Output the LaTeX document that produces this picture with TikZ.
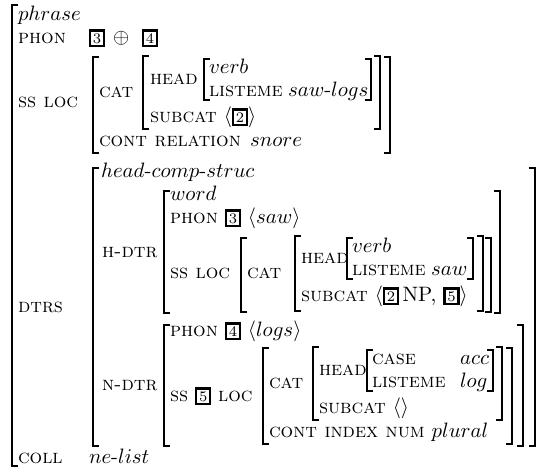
\documentclass[tikz,border=0pt]{standalone}
\newcommand{\tg}[1]{{\setlength{\fboxrule}{1.1pt}\setlength{\fboxsep}{0.8pt}\fbox{\scriptsize #1}}}
\newcommand{\at}[1]{{\fontsize{9.5}{11}\selectfont\scshape #1}}
\newcommand{\LBr}[3]{\draw[brk] ({#1+6},#2) -- (#1,#2) -- (#1,#3) -- ({#1+6},#3);}
\newcommand{\RBr}[3]{\draw[brk] ({#1-6},#2) -- (#1,#2) -- (#1,#3) -- ({#1-6},#3);}
\begin{document}
\begin{tikzpicture}[x=0.48pt,y=-0.48pt,
  tx/.style={anchor=base west, inner sep=0pt, outer sep=0pt},
  brk/.style={line width=0.8pt}]
\useasboundingbox (0,0) rectangle (537,475);
% ---------- top level ----------
\LBr{12}{5}{466}
\node[tx] (phrase) at (18,20) {$phrase$};
\node[tx] (phon) at (18,43) {\at{phon}};
\node[tx] (t3a) at (89,43) {\tg{3}};
\node[tx] (oplus) at (113,43) {$\oplus$};
\node[tx] (t4a) at (142,43) {\tg{4}};
\node[tx] (ssloc) at (18,107) {\at{ss loc}};
% SS LOC value
\LBr{93}{57}{153} \RBr{390}{57}{153}
\node[tx] (cat1) at (99,97) {\at{cat}};
\LBr{143}{56}{129} \RBr{380}{56}{129}
\node[tx] (head1) at (150,84) {\at{head}};
\LBr{204}{59}{100} \RBr{371}{59}{100}
\node[tx] (verb1) at (209,73) {$verb$};
\node[tx] (lst1) at (209,96) {\at{listeme}};
\node[tx] (sawlogs) at (288,96) {$saw\mbox{-}logs$};
\node[tx] (subcat1) at (150,122) {\at{subcat} $\langle$\tg{2}$\rangle$};
\node[tx] (cont1) at (99,146) {\at{cont relation}};
\node[tx] (snore) at (250,146) {$snore$};
% ---------- DTRS ----------
\node[tx] (dtrs) at (18,312) {\at{dtrs}};
\LBr{93}{168}{446} \RBr{535}{168}{446}
\node[tx] (hcs) at (101,177) {$head\mbox{-}comp\mbox{-}struc$};
% H-DTR
\node[tx] (hdtr) at (102,257) {\at{h-dtr}};
\LBr{164}{191}{313} \RBr{500}{191}{313}
\node[tx] (word) at (170,200) {$word$};
\node[tx] (phon2) at (170,223) {\at{phon} \tg{3} $\langle saw\rangle$};
\node[tx] (ssloc2) at (170,278) {\at{ss loc}};
\LBr{241}{238}{312} \RBr{491}{238}{312}
\node[tx] (cat2) at (247,278) {\at{cat}};
\LBr{295}{236}{311} \RBr{483}{236}{311}
\node[tx] (head2) at (301,263) {\at{head}};
\LBr{347}{238}{279} \RBr{473}{238}{279}
\node[tx] (verb2) at (352,252) {$verb$};
\node[tx] (lst2) at (352,275) {\at{listeme}};
\node[tx] (saw2) at (431,275) {$saw$};
\node[tx] (subcat2) at (301,301) {\at{subcat} $\langle$\tg{2}\,NP, \tg{5}$\rangle$};
% N-DTR
\node[tx] (ndtr) at (102,390) {\at{n-dtr}};
\LBr{164}{325}{446} \RBr{523}{325}{446}
\node[tx] (phon3) at (170,336) {\at{phon} \tg{4} $\langle logs\rangle$};
\node[tx] (ss5loc) at (170,401) {\at{ss} \tg{5} \at{loc}};
\LBr{263}{348}{444} \RBr{512}{348}{444}
\node[tx] (cat3) at (269,388) {\at{cat}};
\LBr{313}{347}{420} \RBr{502}{347}{420}
\node[tx] (head3) at (319,375) {\at{head}};
\LBr{367}{350}{391} \RBr{493}{350}{391}
\node[tx] (case) at (372,364) {\at{case}};
\node[tx] (acc) at (460,364) {$acc$};
\node[tx] (lst3) at (372,387) {\at{listeme}};
\node[tx] (log) at (460,387) {$log$};
\node[tx] (subcat3) at (319,413) {\at{subcat} $\langle\rangle$};
\node[tx] (cont3) at (269,437) {\at{cont index num} $plural$};
% ---------- COLL ----------
\node[tx] (coll) at (18,463) {\at{coll}};
\node[tx] (nelist) at (89,463) {$ne\mbox{-}list$};
\end{tikzpicture}
\end{document}
